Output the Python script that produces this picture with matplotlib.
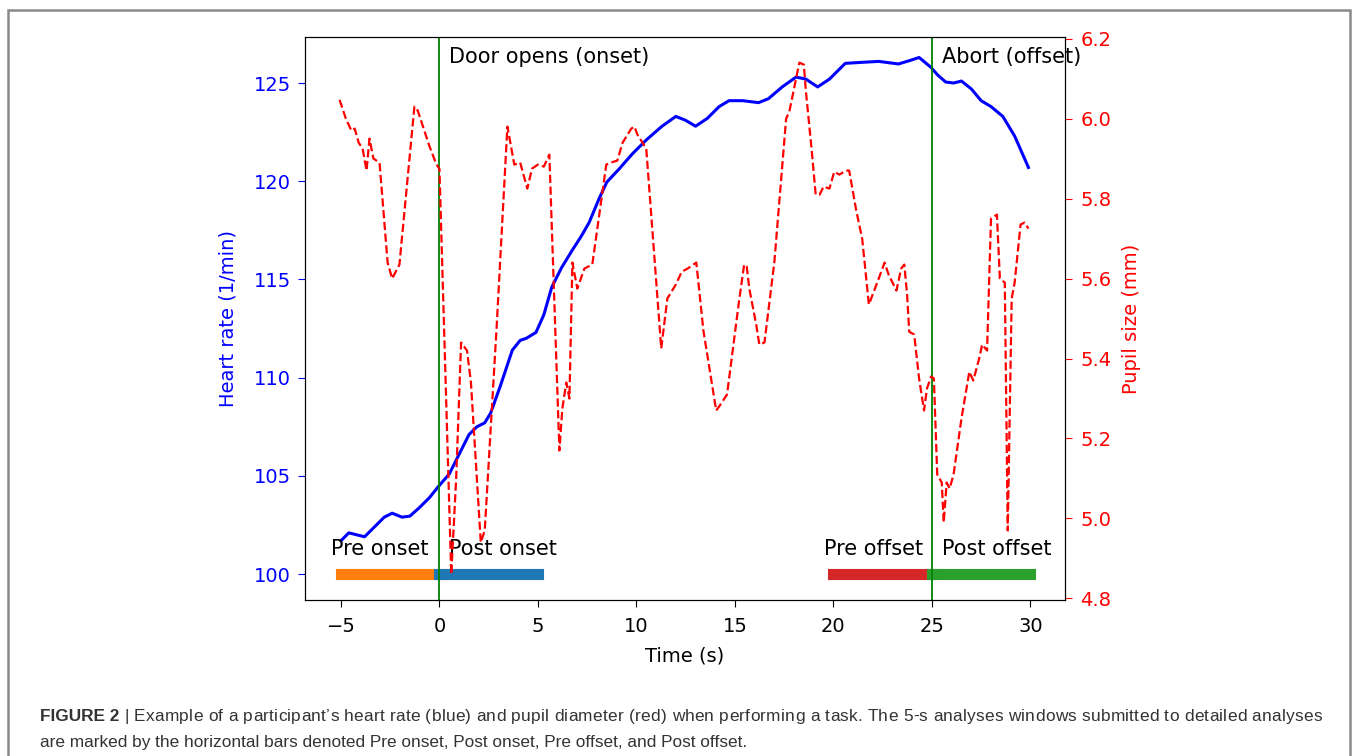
import matplotlib
matplotlib.use("Agg")
import matplotlib.pyplot as plt
from matplotlib.patches import Rectangle

# heart rate (left axis)
hr_time = [-5.0, -4.6, -4.2, -3.8, -3.3, -2.8, -2.4, -1.9, -1.5, -1.0, -0.5, -0.1,
           0.5, 1.0, 1.5, 1.9, 2.3, 2.6, 3.1, 3.7, 4.1, 4.4, 4.9, 5.3, 5.7,
           6.2, 6.75, 7.2, 7.6, 8.1, 8.5, 9.1, 9.8, 10.5, 11.3, 12.0, 12.5,
           13.0, 13.6, 14.2, 14.7, 15.4, 16.2, 16.7, 17.4, 18.1, 18.6, 19.2,
           19.8, 20.6, 21.4, 22.3, 23.3, 23.9, 24.35, 24.95, 25.3, 25.7, 26.1,
           26.5, 27.0, 27.5, 28.0, 28.6, 29.2, 29.9]
hr_value = [101.7, 102.1, 102.0, 101.9, 102.4, 102.9, 103.1, 102.9, 102.95, 103.4, 103.9, 104.4,
            105.1, 106.1, 107.1, 107.5, 107.7, 108.2, 109.6, 111.4, 111.9, 112.0, 112.3, 113.2, 114.6,
            115.6, 116.5, 117.2, 117.9, 119.1, 119.96, 120.6, 121.4, 122.1, 122.8, 123.3, 123.1,
            122.8, 123.2, 123.8, 124.1, 124.1, 124.0, 124.2, 124.8, 125.3, 125.2, 124.8,
            125.2, 126.0, 126.05, 126.1, 125.97, 126.15, 126.3, 125.8, 125.4, 125.05, 125.0,
            125.1, 124.7, 124.1, 123.8, 123.3, 122.3, 120.7]

# pupil size (right axis)
pupil_time = [-5.07, -4.75, -4.47, -4.3, -4.1, -3.9, -3.7, -3.55, -3.35, -3.04, -2.63, -2.4,
              -2.03, -1.27, -1.1, -0.5, -0.15, 0.0, 0.6, 0.85, 1.1, 1.4, 1.6, 2.1, 2.3,
              2.9, 3.45, 3.6, 3.8, 4.1, 4.46, 4.7, 5.0, 5.3, 5.58, 6.09, 6.24, 6.44, 6.6,
              6.75, 7.0, 7.36, 7.76, 8.47, 8.7, 9.03, 9.3, 9.74, 9.9, 10.05, 10.5, 11.26,
              11.57, 12.0, 12.3, 12.6, 13.04, 13.4, 14.05, 14.2, 14.6, 15.2, 15.47, 15.6,
              15.73, 16.08, 16.24, 16.5, 17.0, 17.6, 17.76, 18.27, 18.5, 18.6, 18.9, 19.1,
              19.3, 19.5, 19.8, 20.04, 20.3, 20.65, 20.8, 21.16, 21.46, 21.8, 22.3, 22.6,
              22.8, 23.2, 23.44, 23.6, 23.74, 23.85, 24.1, 24.35, 24.6, 24.75, 24.96, 25.1,
              25.27, 25.5, 25.6, 25.75, 25.9, 26.1, 26.5, 26.9, 27.1, 27.4, 27.55, 27.8,
              28.0, 28.3, 28.45, 28.7, 28.85, 29.05, 29.2, 29.5, 29.7, 29.9]
pupil_value = [6.047, 6.00, 5.97, 5.975, 5.94, 5.925, 5.87, 5.95, 5.90, 5.89, 5.64, 5.60,
               5.635, 6.03, 6.02, 5.93, 5.885, 5.875, 4.86, 5.10, 5.44, 5.42, 5.34, 4.94, 4.97,
               5.475, 5.98, 5.94, 5.885, 5.89, 5.825, 5.875, 5.885, 5.88, 5.91, 5.17, 5.275, 5.34, 5.30,
               5.64, 5.575, 5.625, 5.635, 5.885, 5.89, 5.895, 5.94, 5.975, 5.98, 5.96, 5.925, 5.425,
               5.55, 5.585, 5.617, 5.625, 5.64, 5.47, 5.27, 5.28, 5.31, 5.54, 5.635, 5.63,
               5.575, 5.485, 5.435, 5.44, 5.64, 6.00, 6.017, 6.14, 6.135, 6.07, 5.92, 5.81,
               5.81, 5.83, 5.825, 5.867, 5.86, 5.87, 5.87, 5.77, 5.70, 5.535, 5.60, 5.64,
               5.61, 5.57, 5.625, 5.635, 5.56, 5.467, 5.46, 5.35, 5.27, 5.325, 5.355, 5.35,
               5.11, 5.09, 4.99, 5.09, 5.075, 5.11, 5.25, 5.367, 5.345, 5.40, 5.435, 5.42,
               5.75, 5.76, 5.60, 5.59, 4.97, 5.55, 5.59, 5.735, 5.74, 5.725]

# analysis windows
windows = ["Pre onset", "Post onset", "Pre offset", "Post offset"]
window_start = [-5, 0, 20, 25]
window_end = [0, 5, 25, 30]
window_colors = ["tab:orange", "tab:blue", "tab:red", "tab:green"]
window_label_x = [-5.5, 0.5, 19.5, 25.5]

events = [0, 25]
event_labels = ["Door opens (onset)", "Abort (offset)"]

caption_bold = "FIGURE 2"
caption_1 = ("| Example of a participant\u2019s heart rate (blue) and pupil diameter (red) when "
             "performing a task. The 5-s analyses windows submitted to detailed analyses")
caption_2 = ("are marked by the horizontal bars denoted Pre onset, Post onset, Pre offset, "
             "and Post offset.")

W, H = 1358, 756
fig = plt.figure(figsize=(W / 100, H / 100), dpi=100)
ax = fig.add_axes([0.2246, 0.2063, 0.5596, 0.7447])

ax.plot(hr_time, hr_value, color="blue", lw=2.2)
for s, e, c in zip(window_start, window_end, window_colors):
    ax.plot([s, e], [100, 100], color=c, lw=8)
for x, lab in zip(window_label_x, windows):
    ax.text(x, 100.97, lab, fontsize=15, va="baseline")
for x, lab in zip(events, event_labels):
    ax.axvline(x, color="green", lw=1.3)
    ax.text(x + 0.5, 0.954, lab, fontsize=15, va="baseline",
            transform=ax.get_xaxis_transform())

ax.set_ylim(98.68, 127.34)
ax.set_xlabel("Time (s)", fontsize=14, labelpad=8)
ax.set_ylabel("Heart rate (1/min)", fontsize=14, color="blue", labelpad=12)
ax.tick_params(axis="x", labelsize=14, length=5, pad=7)
ax.tick_params(axis="y", labelsize=14, colors="blue", length=5, pad=5)
ax.set_yticks([100, 105, 110, 115, 120, 125])

ax2 = ax.twinx()
ax2.plot(pupil_time, pupil_value, color="red", ls="--", lw=1.6)
ax2.set_ylabel("Pupil size (mm)", fontsize=14, color="red", labelpad=8)
ax2.tick_params(axis="y", labelsize=14, colors="red", length=5, pad=6)
ax2.set_yticks([4.8, 5.0, 5.2, 5.4, 5.6, 5.8, 6.0, 6.2])

# frame around the figure panel
fig.patches.append(Rectangle((8 / W, -0.05), 1342 / W, 1 - 10 / H + 0.05,
                             transform=fig.transFigure, fill=False,
                             edgecolor="#8a8a8a", lw=1.8))

# caption: first line is justified with letter spacing (as in the typeset page)
cap_kw = dict(fontsize=12.4, family="Liberation Sans", color="#333333", va="baseline")
renderer = fig.canvas.get_renderer()
t = fig.text(40 / W, 1 - 721 / H, caption_bold, fontweight="bold", **cap_kw)
x0 = t.get_window_extent(renderer).x1 + 5
probe = fig.text(0, 0, caption_1, **cap_kw)
natural = probe.get_window_extent(renderer).width
track = (1322 - x0 - natural) / (len(caption_1) - 1)
for i, ch in enumerate(caption_1):
    if ch == " ":
        continue
    probe.set_text(caption_1[:i] + "|")
    w_pre = probe.get_window_extent(renderer).width
    probe.set_text("|")
    w_bar = probe.get_window_extent(renderer).width
    fig.text((x0 + w_pre - w_bar + i * track) / W, 1 - 721 / H, ch, **cap_kw)
probe.remove()
fig.text(40 / W, 1 - 747 / H, caption_2, **cap_kw)

fig.savefig("out.png", dpi=100)
